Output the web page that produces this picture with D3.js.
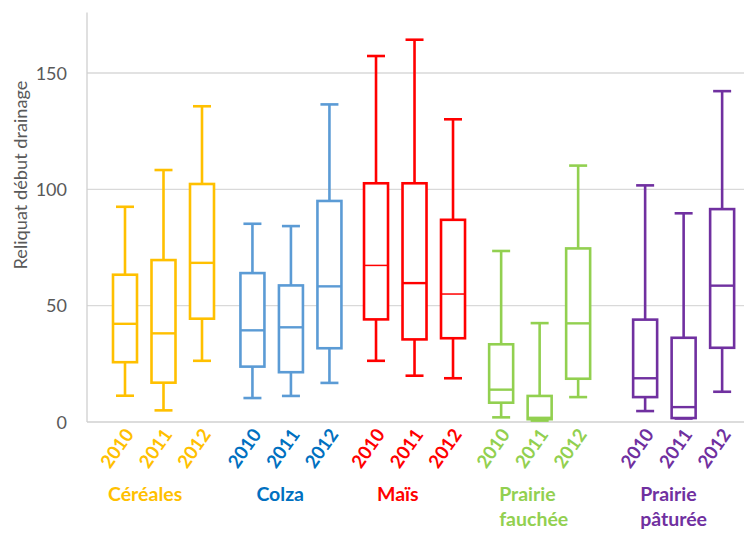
<!DOCTYPE html>
<html><head><meta charset="utf-8">
<script src="https://cdn.jsdelivr.net/npm/d3@7"></script>
<style>body{margin:0;background:#fff}svg{display:block}</style>
</head><body><svg id="c" width="744" height="534"></svg>
<script>
const groups = ["Céréales","Colza","Maïs","Prairie fauchée","Prairie pâturée"];
const years = ["2010","2011","2012"];
const groupColors = ["#FFC000","#5B9BD5","#FF0000","#92D050","#7030A0"];
const labelColors = ["#FFC000","#0070C0","#FF0000","#92D050","#7030A0"];
// [min, q1, median, q3, max] per group, per year
const cereales = [[11.3,25.7,42.2,63.3,92.5],[5.0,16.9,38.1,69.6,108.3],[26.3,44.4,68.4,102.3,135.7]];
const colza    = [[10.3,23.8,39.4,64.0,85.2],[11.2,21.4,40.7,58.7,84.2],[16.8,31.7,58.3,95.0,136.5]];
const mais     = [[26.3,44.1,67.3,102.6,157.3],[19.9,35.5,59.7,102.6,164.3],[18.8,36.0,55.0,86.9,130.1]];
const fauchee  = [[2.0,8.3,13.9,33.4,73.5],[0.6,1.2,1.8,11.2,42.5],[10.7,18.6,42.4,74.6,110.2]];
const paturee  = [[4.7,10.7,18.8,44.0,101.7],[1.5,1.7,6.4,36.2,89.7],[13.0,31.9,58.6,91.5,142.2]];
const yTicks = [0,50,100,150];
const yTitle = "Reliquat début drainage";

const series = [cereales, colza, mais, fauchee, paturee];
const svg = d3.select("#c");
const y = d3.scaleLinear().domain([0,176]).range([422,12.5]);
const groupShift = [0,0.31,0.52,0.77,1.51];
const x = d3.scaleLinear().domain([0,1]).range([125,163.5]);
const slot = (g,i)=> x(g*3+i+groupShift[g]);

// gridlines
svg.append("g").selectAll("line").data(yTicks.filter(t=>t>0)).join("line")
  .attr("x1",87).attr("x2",744).attr("y1",d=>y(d)).attr("y2",d=>y(d))
  .attr("stroke","#d9d9d9").attr("stroke-width",1.3);
// axes lines
svg.append("line").attr("x1",87).attr("x2",87).attr("y1",y(176)).attr("y2",y(0)).attr("stroke","#d0d0d0").attr("stroke-width",1.3);
svg.append("line").attr("x1",87).attr("x2",744).attr("y1",y(0)).attr("y2",y(0)).attr("stroke","#d0d0d0").attr("stroke-width",1.3);

// y axis labels
const ya = d3.axisLeft(y).tickValues(yTicks).tickSize(0).tickPadding(0);
const yg = svg.append("g").attr("transform","translate(67,0)").call(ya);
yg.select(".domain").remove();
yg.selectAll("text").attr("fill","#595959").attr("font-family","Lato, 'Open Sans', sans-serif").attr("font-size",18).attr("dy","0.35em");

svg.append("text").attr("transform",`translate(27,175) rotate(-90)`)
  .attr("text-anchor","middle").attr("fill","#595959")
  .attr("font-family","Lato, sans-serif").attr("font-size",18.2).text(yTitle);

const bw = 24, cw = 18;
series.forEach((grp,g)=>{
  const col = groupColors[g];
  grp.forEach((d,i)=>{
    const cx = slot(g,i);
    const G = svg.append("g").attr("stroke",col).attr("stroke-width",2.6).attr("fill","none");
    G.append("line").attr("x1",cx).attr("x2",cx).attr("y1",y(d[0])).attr("y2",y(d[1]));
    G.append("line").attr("x1",cx).attr("x2",cx).attr("y1",y(d[3])).attr("y2",y(d[4]));
    G.append("line").attr("x1",cx-cw/2).attr("x2",cx+cw/2).attr("y1",y(d[0])).attr("y2",y(d[0]));
    G.append("line").attr("x1",cx-cw/2).attr("x2",cx+cw/2).attr("y1",y(d[4])).attr("y2",y(d[4]));
    G.append("rect").attr("x",cx-bw/2).attr("width",bw).attr("y",y(d[3])).attr("height",y(d[1])-y(d[3])).attr("fill","#fff");
    G.append("line").attr("x1",cx-bw/2).attr("x2",cx+bw/2).attr("y1",y(d[2])).attr("y2",y(d[2])).attr("stroke-width",g===2&&i!==1?1.5:2.4);
    svg.append("text").attr("transform",`translate(${cx-1},${427}) rotate(-55)`)
      .attr("text-anchor","end").attr("dy","0.7em").attr("fill",labelColors[g])
      .attr("font-family","Lato, sans-serif").attr("font-weight","bold").attr("font-size",18.5)
      .text(years[i]);
  });
});

// group labels
const labelOffset = [-17,4,1,-2,-5];
groups.forEach((name,g)=>{
  const words = name.split(" ");
  const t = svg.append("text").attr("x",slot(g,0)+labelOffset[g]).attr("y",501)
    .attr("fill",labelColors[g]).attr("font-family","Lato, sans-serif").attr("font-weight","bold").attr("font-size",19.5);
  if (words.length===1) t.text(name);
  else words.forEach((w,k)=>t.append("tspan").attr("x",slot(g,0)+labelOffset[g]).attr("dy",k?25:0).text(w));
});
</script></body></html>
